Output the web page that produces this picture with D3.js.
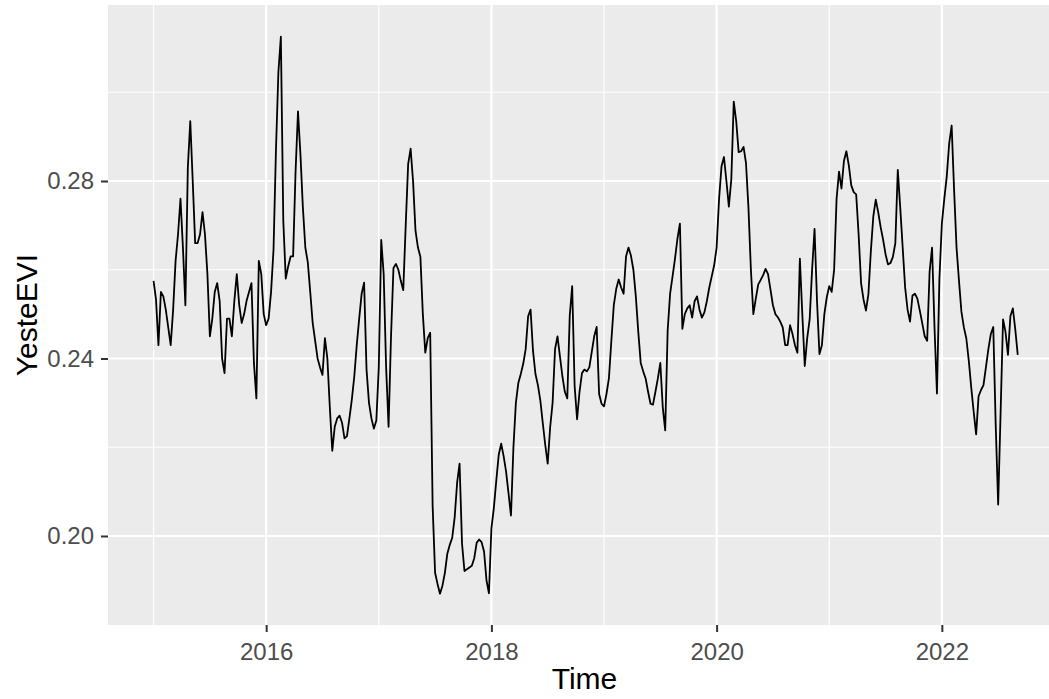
<!DOCTYPE html>
<html>
<head>
<meta charset="utf-8">
<script src="https://cdn.jsdelivr.net/npm/d3@7"></script>
<style>
  html, body { margin: 0; padding: 0; background: #ffffff; overflow: hidden; }
  svg { display: block; }
</style>
</head>
<body>
<script>
// ts(start = 2015, frequency = 46) -- 8-day EVI composites
var startYear = 2015
var frequency = 46

var evi2015 = [0.2575, 0.2533, 0.2430, 0.2550, 0.2540, 0.2510, 0.2470, 0.2430, 0.2510, 0.2620,
  0.2680, 0.2760, 0.2650, 0.2520, 0.2830, 0.2935, 0.2800, 0.2660, 0.2660, 0.2680,
  0.2730, 0.2680, 0.2590, 0.2450, 0.2490, 0.2550, 0.2570, 0.2530, 0.2400, 0.2367,
  0.2490, 0.2490, 0.2450, 0.2530, 0.2590, 0.2520, 0.2480, 0.2500, 0.2530, 0.2550,
  0.2570, 0.2390, 0.2310, 0.2620, 0.2590, 0.2500]
var evi2016 = [0.2475, 0.2490, 0.2550, 0.2645, 0.2870, 0.3046, 0.3125, 0.2710, 0.2580, 0.2608,
  0.2630, 0.2630, 0.2820, 0.2957, 0.2860, 0.2740, 0.2650, 0.2617, 0.2550, 0.2480,
  0.2440, 0.2400, 0.2380, 0.2363, 0.2446, 0.2400, 0.2290, 0.2192, 0.2246, 0.2265,
  0.2271, 0.2255, 0.2220, 0.2225, 0.2265, 0.2308, 0.2360, 0.2430, 0.2490, 0.2546,
  0.2571, 0.2375, 0.2300, 0.2265, 0.2242, 0.2260]
var evi2017 = [0.2380, 0.2667, 0.2590, 0.2380, 0.2246, 0.2450, 0.2604, 0.2613, 0.2600, 0.2575,
  0.2554, 0.2700, 0.2838, 0.2873, 0.2800, 0.2688, 0.2650, 0.2629, 0.2500, 0.2413,
  0.2446, 0.2458, 0.2067, 0.1917, 0.1892, 0.1870, 0.1888, 0.1917, 0.1960, 0.1980,
  0.1996, 0.2042, 0.2120, 0.2163, 0.1983, 0.1921, 0.1925, 0.1929, 0.1933, 0.1950,
  0.1985, 0.1992, 0.1986, 0.1965, 0.1900, 0.1871]
var evi2018 = [0.2017, 0.2063, 0.2125, 0.2183, 0.2208, 0.2180, 0.2145, 0.2096, 0.2046, 0.2200,
  0.2300, 0.2345, 0.2365, 0.2388, 0.2421, 0.2495, 0.2510, 0.2417, 0.2365, 0.2340,
  0.2305, 0.2254, 0.2205, 0.2163, 0.2245, 0.2300, 0.2421, 0.2450, 0.2405, 0.2360,
  0.2325, 0.2310, 0.2496, 0.2563, 0.2338, 0.2263, 0.2325, 0.2367, 0.2375, 0.2371,
  0.2380, 0.2415, 0.2450, 0.2471, 0.2320, 0.2298]
var evi2019 = [0.2292, 0.2320, 0.2355, 0.2440, 0.2520, 0.2557, 0.2578, 0.2560, 0.2546, 0.2630,
  0.2650, 0.2632, 0.2600, 0.2540, 0.2460, 0.2390, 0.2371, 0.2355, 0.2325, 0.2298,
  0.2296, 0.2325, 0.2355, 0.2390, 0.2290, 0.2238, 0.2463, 0.2546, 0.2585, 0.2625,
  0.2670, 0.2704, 0.2467, 0.2500, 0.2513, 0.2520, 0.2492, 0.2529, 0.2540, 0.2510,
  0.2492, 0.2504, 0.2529, 0.2560, 0.2585, 0.2610]
var evi2020 = [0.2650, 0.2760, 0.2833, 0.2854, 0.2800, 0.2742, 0.2804, 0.2979, 0.2935, 0.2865,
  0.2867, 0.2877, 0.2840, 0.2740, 0.2600, 0.2500, 0.2535, 0.2567, 0.2577, 0.2588,
  0.2602, 0.2590, 0.2555, 0.2520, 0.2500, 0.2493, 0.2483, 0.2470, 0.2430, 0.2430,
  0.2475, 0.2455, 0.2430, 0.2413, 0.2625, 0.2500, 0.2383, 0.2446, 0.2488, 0.2600,
  0.2692, 0.2530, 0.2410, 0.2430, 0.2500, 0.2538]
var evi2021 = [0.2563, 0.2550, 0.2600, 0.2760, 0.2821, 0.2783, 0.2845, 0.2867, 0.2835, 0.2790,
  0.2775, 0.2770, 0.2680, 0.2570, 0.2533, 0.2508, 0.2545, 0.2642, 0.2720, 0.2758,
  0.2730, 0.2696, 0.2668, 0.2635, 0.2612, 0.2615, 0.2629, 0.2660, 0.2825, 0.2740,
  0.2650, 0.2560, 0.2510, 0.2483, 0.2542, 0.2546, 0.2535, 0.2508, 0.2479, 0.2450,
  0.2440, 0.2596, 0.2650, 0.2470, 0.2321, 0.2580]
var evi2022 = [0.2704, 0.2760, 0.2810, 0.2885, 0.2925, 0.2780, 0.2650, 0.2575, 0.2505, 0.2470,
  0.2445, 0.2395, 0.2335, 0.2280, 0.2229, 0.2315, 0.2329, 0.2340, 0.2380, 0.2421,
  0.2455, 0.2471, 0.2250, 0.2071, 0.2279, 0.2488, 0.2460, 0.2408, 0.2495, 0.2513,
  0.2465, 0.2408]

var xMajor = [2016, 2018, 2020, 2022]
var xMinor = [2015, 2017, 2019, 2021]
var yMajor = [0.20, 0.24, 0.28]
var yMinor = [0.22, 0.26, 0.30]
var xLimits = [2014.5955, 2023.058]
var yLimits = [0.17994, 0.31966]

var xLabel = "Time"
var yLabel = "YesteEVI"

function main() {
  var width = 1049
  var height = 699
  // the panel runs past the right edge of the picture (it was cropped)
  var left = 108, right = 1061, top = 5, bottom = 625

  var evi = [].concat(evi2015, evi2016, evi2017, evi2018, evi2019, evi2020, evi2021, evi2022)
  var data = evi.map(function(v, i) { return { t: startYear + i / frequency, v: v } })

  var svg = d3.select("body").append("svg")
    .attr("width", width)
    .attr("height", height)
    .style("font-family", "'Liberation Sans', Arial, sans-serif")

  var x = d3.scaleLinear().domain(xLimits).range([left, right])
  var y = d3.scaleLinear().domain(yLimits).range([bottom, top])

  // panel
  svg.append("rect")
    .attr("x", left).attr("y", top)
    .attr("width", right - left).attr("height", bottom - top)
    .attr("fill", "#EBEBEB")

  var grid = svg.append("g").attr("class", "grid")

  grid.selectAll("line.xminor").data(xMinor).enter().append("line")
    .attr("x1", function(d) { return x(d) }).attr("x2", function(d) { return x(d) })
    .attr("y1", top).attr("y2", bottom)
    .attr("stroke", "#ffffff").attr("stroke-width", 1.2)
  grid.selectAll("line.yminor").data(yMinor).enter().append("line")
    .attr("y1", function(d) { return y(d) }).attr("y2", function(d) { return y(d) })
    .attr("x1", left).attr("x2", right)
    .attr("stroke", "#ffffff").attr("stroke-width", 1.2)
  grid.selectAll("line.xmajor").data(xMajor).enter().append("line")
    .attr("x1", function(d) { return x(d) }).attr("x2", function(d) { return x(d) })
    .attr("y1", top).attr("y2", bottom)
    .attr("stroke", "#ffffff").attr("stroke-width", 2.2)
  grid.selectAll("line.ymajor").data(yMajor).enter().append("line")
    .attr("y1", function(d) { return y(d) }).attr("y2", function(d) { return y(d) })
    .attr("x1", left).attr("x2", right)
    .attr("stroke", "#ffffff").attr("stroke-width", 2.2)

  // the series
  var line = d3.line()
    .x(function(d) { return x(d.t) })
    .y(function(d) { return y(d.v) })

  svg.append("path")
    .datum(data)
    .attr("d", line)
    .attr("fill", "none")
    .attr("stroke", "#000000")
    .attr("stroke-width", 1.8)
    .attr("stroke-linejoin", "round")

  // axes
  var xAxis = d3.axisBottom(x).tickValues(xMajor).tickFormat(d3.format("d"))
    .tickSizeInner(7).tickSizeOuter(0).tickPadding(7)
  var yAxis = d3.axisLeft(y).tickValues(yMajor).tickFormat(d3.format(".2f"))
    .tickSizeInner(7).tickSizeOuter(0).tickPadding(7)

  var gx = svg.append("g").attr("transform", "translate(0," + bottom + ")").call(xAxis)
  var gy = svg.append("g").attr("transform", "translate(" + left + ",0)").call(yAxis)

  ;[gx, gy].forEach(function(g) {
    g.select(".domain").remove()
    g.selectAll(".tick line").attr("stroke", "#333333").attr("stroke-width", 2)
    g.selectAll(".tick text")
      .attr("fill", "#4D4D4D")
      .style("font-size", "24px")
      .style("font-family", "'Liberation Sans', Arial, sans-serif")
  })
  gx.selectAll(".tick text").attr("y", 35).attr("dy", 0)

  svg.append("text")
    .attr("x", (left + right) / 2)
    .attr("y", 689)
    .attr("text-anchor", "middle")
    .attr("fill", "#000000")
    .style("font-size", "30px")
    .text(xLabel)

  svg.append("text")
    .attr("transform", "translate(37," + ((top + bottom) / 2) + ") rotate(-90)")
    .attr("text-anchor", "middle")
    .attr("fill", "#000000")
    .style("font-size", "30px")
    .text(yLabel)
}

main()
</script>
</body>
</html>
